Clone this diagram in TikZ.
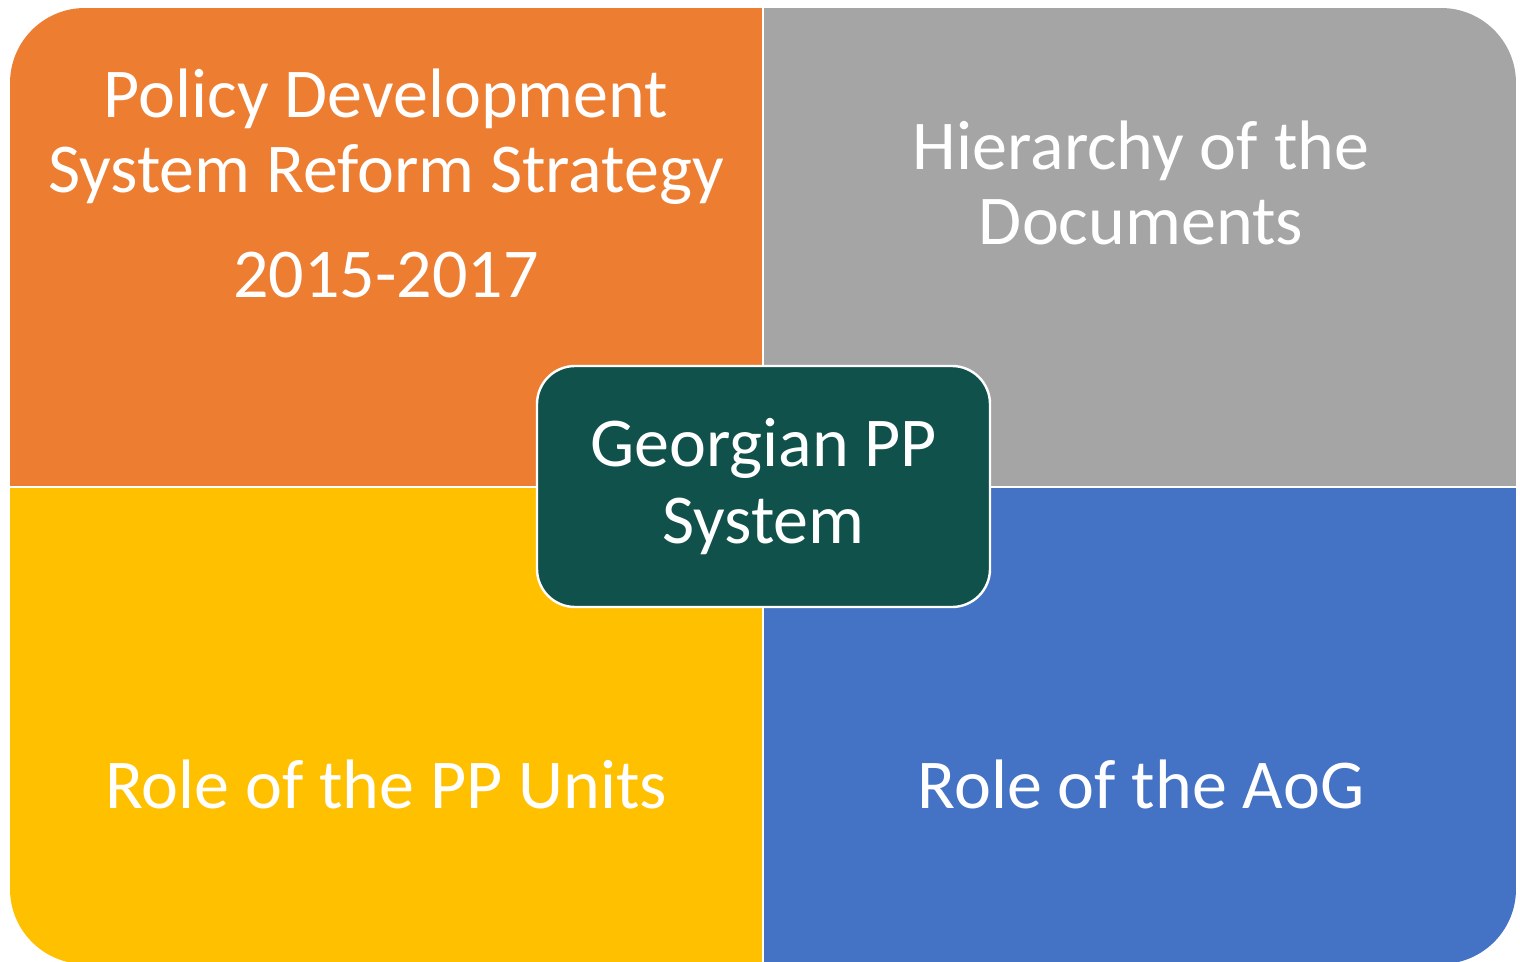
\documentclass[tikz,border=0pt]{standalone}
\usepackage{fontspec}
\setmainfont{Carlito}
\definecolor{qorange}{HTML}{ED7D31}
\definecolor{qgray}{HTML}{A5A5A5}
\definecolor{qyellow}{HTML}{FFC000}
\definecolor{qblue}{HTML}{4472C4}
\definecolor{qteal}{HTML}{10524B}
\tikzset{
  quad/.style={inner sep=0pt, outer sep=0pt},
  lbl/.style={text=white, inner sep=0pt, anchor=base, font=\fontsize{35}{38.5}\selectfont},
  hub/.style={draw=white, line width=1.2pt, fill=qteal, rounded corners=19pt,
    minimum width=226.5pt, minimum height=120.5pt, inner sep=0pt, text=white,
    align=center, font=\fontsize{35}{38.5}\selectfont},
  sep/.style={white, line width=1pt}
}
\begin{document}
\begin{tikzpicture}[x=0.5pt,y=-0.5pt]
\useasboundingbox (0,0) rectangle (1520,962);
\begin{scope}
  \clip[rounded corners=37.5pt] (10,8) rectangle (1516,964);
  \fill[qorange] (10,8) rectangle (763,487);
  \fill[qgray] (763,8) rectangle (1516,487);
  \fill[qyellow] (10,487) rectangle (763,964);
  \fill[qblue] (763,487) rectangle (1516,964);
  \coordinate (vtop) at (763,8);
  \coordinate (vbot) at (763,964);
  \coordinate (hleft) at (10,487);
  \coordinate (hright) at (1516,487);
  \draw[sep] (vtop) -- (vbot);
  \draw[sep] (hleft) -- (hright);
\end{scope}
\node[lbl] (tl1) at (386,118) {Policy Development};
\node[lbl] (tl2) at (386,193) {System Reform Strategy};
\node[lbl] (tl3) at (386,298) {2015-2017};
\node[lbl] (tr1) at (1141,170) {Hierarchy of the};
\node[lbl] (tr2) at (1141,245) {Documents};
\node[lbl] (bl1) at (386,808) {Role of the PP Units};
\node[lbl] (br1) at (1141,808) {Role of the AoG};
\node[hub] (hub) at (763.5,486.5) {Georgian PP\\System};
\end{tikzpicture}
\end{document}
